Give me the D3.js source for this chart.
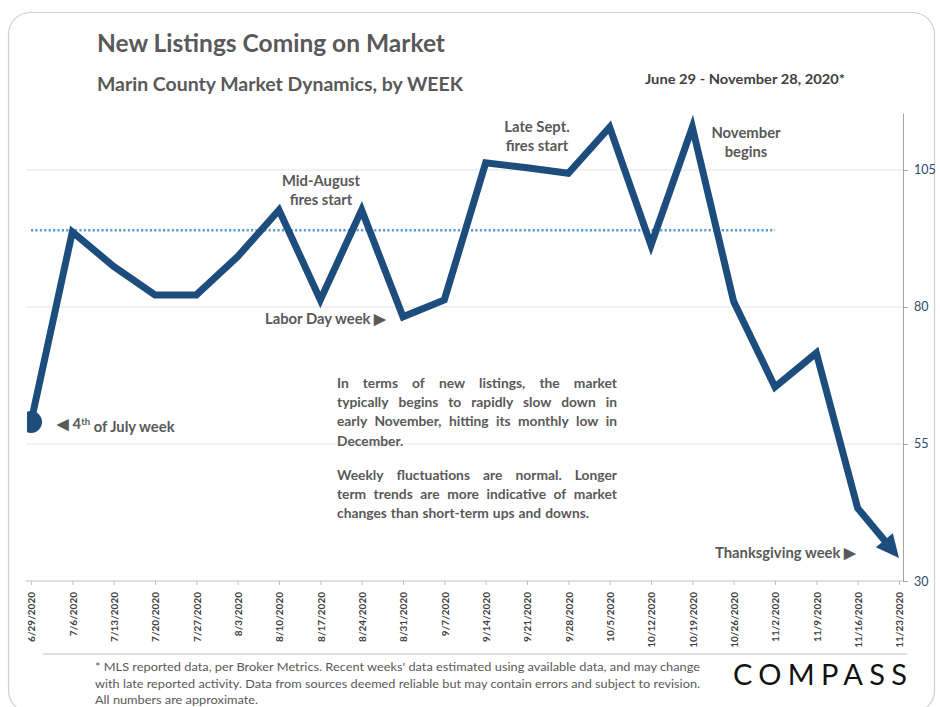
<!DOCTYPE html>
<html>
<head>
<meta charset="utf-8">
<script src="https://cdn.jsdelivr.net/npm/d3@7"></script>
<style>
  html, body { margin: 0; padding: 0; background: #ffffff; }
  svg { display: block; }
  text { font-family: Lato, "Open Sans", sans-serif; }
</style>
</head>
<body>
<svg id="chart" width="940" height="707"></svg>
<script>
// ---------- data ----------
const weeks = ["6/29/2020","7/6/2020","7/13/2020","7/20/2020","7/27/2020","8/3/2020","8/10/2020","8/17/2020","8/24/2020","8/31/2020","9/7/2020","9/14/2020","9/21/2020","9/28/2020","10/5/2020","10/12/2020","10/19/2020","10/26/2020","11/2/2020","11/9/2020","11/16/2020","11/23/2020"];
const newListings = [59, 93.7, 87.4, 82.2, 82.2, 89.2, 97.7, 81.3, 97.7, 78.2, 81.3, 106.3, 105.4, 104.4, 112.8, 91.3, 112.8, 81.0, 65.4, 71.6, 43.3, 34.2];
const averageValue = 94;
const averageSpan = ["6/29/2020", "11/2/2020"];
const yTicks = [30, 55, 80, 105];
const yDomain = [30, 115.4];

const titleText = "New Listings Coming on Market";
const subtitleText = "Marin County Market Dynamics, by WEEK";
const dateRangeText = "June 29 - November 28, 2020*";
const paragraph1 = ["In terms of new listings, the market", "typically begins to rapidly slow down in", "early November, hitting its monthly low in", "December."];
const paragraph2 = ["Weekly fluctuations are normal. Longer", "term trends are more indicative of market", "changes than short-term ups and downs."];
const footerLines = ["* MLS reported data, per Broker Metrics. Recent weeks' data estimated using available data, and may change", "with late reported activity. Data from sources deemed reliable but may contain errors and subject to revision.", "All numbers are approximate."];

// ---------- setup ----------
const svg = d3.select("#chart");
const gray = "#595959";
const lineColor = "#1d4d7c";

// card border
svg.append("rect").attr("x", 8.5).attr("y", 12.5).attr("width", 926).attr("height", 700)
  .attr("rx", 22).attr("fill", "none").attr("stroke", "#cfcfcf").attr("stroke-width", 1.2);

const plotLeft = 26, plotRight = 903, plotTop = 113, plotBottom = 581;
const x = d3.scalePoint().domain(weeks).range([31, 899]);
const y = d3.scaleLinear().domain(yDomain).range([plotBottom, plotTop]);

// gridlines
svg.append("g").selectAll("line").data(yTicks.filter(d => d > yDomain[0])).join("line")
  .attr("x1", plotLeft).attr("x2", plotRight)
  .attr("y1", d => y(d)).attr("y2", d => y(d))
  .attr("stroke", "#e3e3e3").attr("stroke-width", 1);

// right axis
const yAxis = svg.append("g").attr("transform", `translate(${plotRight},0)`)
  .call(d3.axisRight(y).tickValues(yTicks).tickSize(5).tickPadding(6).tickSizeOuter(0));
yAxis.select(".domain").attr("stroke", "#a6a6a6");
yAxis.selectAll(".tick line").attr("stroke", "#a6a6a6");
yAxis.selectAll(".tick text").attr("fill", "#2c4a6e").attr("font-size", 12.5)
  .style("font-family", "Lato, sans-serif");

// bottom axis
svg.append("line").attr("x1", plotLeft).attr("x2", plotRight)
  .attr("y1", plotBottom).attr("y2", plotBottom).attr("stroke", "#bfbfbf");
const xAxis = svg.append("g").attr("transform", `translate(0,${plotBottom})`)
  .call(d3.axisBottom(x).tickSize(4).tickSizeOuter(0));
xAxis.select(".domain").remove();
xAxis.selectAll(".tick line").attr("stroke", "#bfbfbf");
xAxis.selectAll(".tick text")
  .attr("transform", "rotate(-90)")
  .attr("text-anchor", "end")
  .attr("x", -11).attr("y", 0).attr("dy", "0.38em")
  .attr("fill", "#404040").attr("font-size", 10).attr("font-weight", "bold")
  .style("font-family", "Lato, sans-serif");

// average dotted line
svg.append("line")
  .attr("x1", x(averageSpan[0])).attr("x2", x(averageSpan[1]))
  .attr("y1", y(averageValue)).attr("y2", y(averageValue))
  .attr("stroke", "#5b9bd5").attr("stroke-width", 2.5).attr("stroke-dasharray", "2.2,2.2");

// clip
svg.append("clipPath").attr("id", "plotClip").append("rect")
  .attr("x", 27).attr("y", 0).attr("width", 900).attr("height", 700);

// main line (end pulled back for arrowhead)
const pts = weeks.map((w, i) => [x(w), y(newListings[i])]);
const n = pts.length;
const tip = pts[n - 1], prev = pts[n - 2];
const dx = tip[0] - prev[0], dy = tip[1] - prev[1];
const len = Math.hypot(dx, dy);
const ux = dx / len, uy = dy / len;
const arrowLen = 23, arrowHalf = 11;
const linePts = pts.slice(0, n - 1).concat([[tip[0] - ux * (arrowLen - 4), tip[1] - uy * (arrowLen - 4)]]);

const g = svg.append("g").attr("clip-path", "url(#plotClip)");
g.append("path").datum(linePts)
  .attr("d", d3.line())
  .attr("fill", "none").attr("stroke", lineColor).attr("stroke-width", 7)
  .attr("stroke-linejoin", "miter").attr("stroke-miterlimit", 6);
// start oval
g.append("ellipse").attr("cx", pts[0][0]).attr("cy", pts[0][1])
  .attr("rx", 11).attr("ry", 11).attr("fill", lineColor);
// arrowhead
const bx = tip[0] - ux * arrowLen, by = tip[1] - uy * arrowLen;
svg.append("polygon")
  .attr("points", [[tip[0], tip[1]], [bx - uy * arrowHalf, by + ux * arrowHalf], [bx + uy * arrowHalf, by - ux * arrowHalf]].map(p => p.join(",")).join(" "))
  .attr("fill", lineColor);

// ---------- titles ----------
svg.append("text").attr("x", 97).attr("y", 52).text(titleText)
  .attr("font-size", 24).attr("font-weight", "bold").attr("fill", gray)
  .attr("textLength", 348).attr("lengthAdjust", "spacingAndGlyphs");
svg.append("text").attr("x", 97).attr("y", 91).text(subtitleText)
  .attr("font-size", 18).attr("font-weight", "bold").attr("fill", gray)
  .attr("textLength", 366).attr("lengthAdjust", "spacingAndGlyphs");
svg.append("text").attr("x", 645).attr("y", 84).text(dateRangeText)
  .attr("font-size", 14).attr("font-weight", "bold").attr("fill", "#404040")
  .attr("textLength", 200).attr("lengthAdjust", "spacingAndGlyphs");

// ---------- annotations ----------
function ann(lines, cx, cy, anchor, size) {
  const t = svg.append("text").attr("fill", gray).attr("font-weight", "bold")
    .attr("font-size", size || 13).attr("text-anchor", anchor || "middle");
  lines.forEach((l, i) => t.append("tspan").attr("x", cx).attr("y", cy + i * 19).attr("dy", "0.35em").text(l));
  return t;
}
ann(["Mid-August", "fires start"], 321, 181, "middle", 14.8);
ann(["Late Sept.", "fires start"], 537, 127, "middle", 14.8);
ann(["November", "begins"], 746, 133, "middle", 14.8);
ann(["Labor Day week \u25B6"], 265, 319, "start", 14.8);
ann(["Thanksgiving week \u25B6"], 715, 553, "start", 14.8);

const jt = svg.append("text").attr("x", 57).attr("y", 424).attr("dy", "0.35em")
  .attr("fill", gray).attr("font-weight", "bold").attr("font-size", 14.8);
jt.append("tspan").text("\u25C0 4");
jt.append("tspan").attr("dy", "-0.45em").attr("font-size", 9.5).text("th");
jt.append("tspan").attr("dy", "0.45em").text(" of July week");

// justified paragraphs
function justify(lines, x0, width, y0, lh) {
  lines.forEach((line, i) => {
    const words = line.split(" ");
    const t = svg.append("text").attr("y", y0 + i * lh).attr("dy", "0.35em")
      .attr("fill", gray).attr("font-weight", "bold").attr("font-size", 13.8);
    const spans = words.map(w => t.append("tspan").text(w));
    const widths = spans.map(s => s.node().getComputedTextLength());
    const total = d3.sum(widths);
    const last = i === lines.length - 1;
    const space = last || words.length < 2 ? 4 : (width - total) / (words.length - 1);
    let cx = x0;
    spans.forEach((s, j) => { s.attr("x", cx); cx += widths[j] + space; });
  });
}
justify(paragraph1, 337, 280, 383, 19.3);
justify(paragraph2, 337, 280, 475, 19);

// ---------- footer ----------
svg.append("line").attr("x1", 43).attr("x2", 907).attr("y1", 654).attr("y2", 654)
  .attr("stroke", "#bfbfbf");
const footerWidths = [605, 605, 163];
footerLines.forEach((l, i) => {
  svg.append("text").attr("x", 95).attr("y", 667 + i * 16.5).attr("dy", "0.35em")
    .attr("fill", gray).attr("font-size", 11.5).text(l)
    .attr("textLength", footerWidths[i]).attr("lengthAdjust", "spacingAndGlyphs");
});
svg.append("text").attr("x", 733).attr("y", 685)
  .attr("font-size", 29).attr("fill", "#111")
  .style("font-family", "Lato, sans-serif")
  .attr("textLength", 174).attr("lengthAdjust", "spacing")
  .text("COMPASS");
</script>
</body>
</html>
